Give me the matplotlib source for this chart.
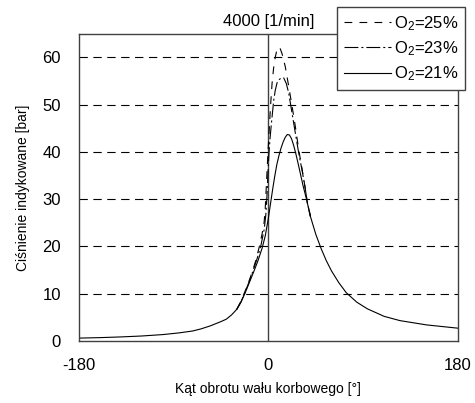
import numpy as np
import matplotlib
matplotlib.use('Agg')
import matplotlib.pyplot as plt

plt.rcParams['font.family'] = ['Liberation Sans', 'DejaVu Sans']
plt.rcParams['mathtext.default'] = 'regular'
plt.rcParams['axes.unicode_minus'] = False

# crank angle [deg] and indicated pressure [bar]
angle_21 = [-180, -160, -140, -120, -100, -85, -72, -64, -55, -45, -40, -35,
            -30, -26, -22, -18, -14, -10, -6, -3, 0, 2, 4, 6, 8, 10, 12, 14,
            16, 18, 20, 22, 24, 26, 28, 30, 33, 36, 40, 45, 50, 55, 60, 67,
            74, 84, 94, 110, 125, 150, 180]
p_21 = [0.6, 0.7, 0.85, 1.05, 1.35, 1.7, 2.1, 2.55, 3.2, 4.1, 4.6, 5.5,
        6.7, 8.2, 10.2, 12.4, 14.6, 16.9, 19.6, 22.2, 26.0, 29.0, 32.0, 34.8,
        37.3, 39.2, 40.8, 42.1, 43.1, 43.7, 43.6, 42.8, 41.4, 39.7, 37.8, 35.8,
        32.8, 30.2, 26.3, 22.6, 19.6, 17.0, 14.8, 12.3, 10.2, 8.2, 6.8, 5.2,
        4.3, 3.4, 2.7]

# richer mixtures split from the 21% curve only around TDC
angle_23 = [-30, -26, -22, -18, -14, -10, -7, -4, -2.5, -1.5, -0.5, 0.5, 1.5,
            3, 5, 6.5, 8.2, 10, 12, 14.5, 17, 19.3, 22.5, 25.6, 28.8, 32,
            34.5, 37, 40]
p_23 = [6.7, 8.3, 10.4, 12.7, 15.2, 17.9, 20.3, 23.6, 26.5, 30.0, 35.0, 39.5,
        42.7, 46.3, 50.8, 53.0, 54.6, 55.3, 55.6, 55.7, 54.5, 52.5, 48.2, 44.0,
        39.8, 36.1, 33.0, 29.3, 26.3]

angle_25 = [-30, -26, -22, -18, -15.5, -12, -9, -6, -4, -3, -2, -1, 0, 1, 2,
            3.5, 5, 6.5, 8, 9.5, 11, 13, 16, 19.3, 22.5, 25.6, 28.8, 32, 34.5,
            37, 40]
p_25 = [6.7, 8.4, 10.6, 12.9, 14.5, 17.0, 19.6, 22.6, 25.2, 28.0, 32.5, 37.2,
        41.5, 45.5, 49.5, 54.5, 57.8, 60.0, 61.5, 62.2, 62.0, 60.8, 58.1, 53.9,
        49.7, 45.4, 40.5, 36.4, 33.0, 29.3, 26.3]

labels = ['O$_2$=25%', 'O$_2$=23%', 'O$_2$=21%']
yticks = [0, 10, 20, 30, 40, 50, 60]
xticks = [-180, 0, 180]

fig = plt.figure(figsize=(4.75, 4.03), dpi=100)
ax = fig.add_axes([0.166, 0.154, 0.798, 0.762])

edge = '#404040'
for y in yticks[1:]:
    ax.axhline(y, color='black', lw=0.8, dashes=(7.5, 5), zorder=1)
ax.axvline(0, color=edge, lw=1.0, zorder=1)

l21, = ax.plot(angle_21, p_21, color='black', lw=0.8)
l23, = ax.plot(angle_23, p_23, color='black', lw=0.8,
               dashes=(12.5, 2.7, 1.8, 2.7))
l25, = ax.plot(angle_25, p_25, color='black', lw=0.8, dashes=(7, 6.5))

ax.set_xlim(-180, 180)
ax.set_ylim(0, 65)
ax.set_xticks(xticks)
ax.set_yticks(yticks)
ax.tick_params(length=0, labelsize=12)
ax.tick_params(axis='y', pad=13)
ax.tick_params(axis='x', pad=12)
for s in ax.spines.values():
    s.set_color(edge)
    s.set_linewidth(1.0)

ax.set_title('4000 [1/min]', fontsize=12, pad=6)
ax.set_xlabel('Kąt obrotu wału korbowego [°]', fontsize=10, labelpad=7)
ax.set_ylabel('Ciśnienie indykowane [bar]', fontsize=10, labelpad=9)

leg = fig.legend([l25, l23, l21], labels,
                 loc='upper right', bbox_to_anchor=(0.979, 0.982),
                 fontsize=12, handlelength=2.8, handletextpad=0.2,
                 labelspacing=0.4, borderpad=0.4, borderaxespad=0,
                 fancybox=False, framealpha=1)
leg.get_frame().set_edgecolor(edge)
leg.get_frame().set_linewidth(1.0)

fig.savefig('out.png', dpi=100)
